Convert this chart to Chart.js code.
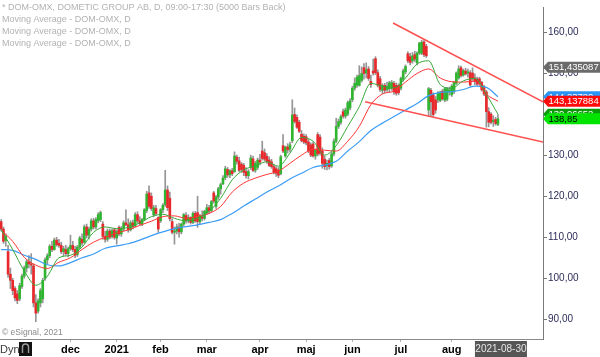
<!DOCTYPE html>
<html>
<head>
<meta charset="utf-8">
<script src="https://cdn.jsdelivr.net/npm/chart.js@4.4.1/dist/chart.umd.min.js"></script>
<style>
  html, body { margin: 0; padding: 0; background: #ffffff; }
  #wrap { width: 600px; height: 357px; position: relative; }
  canvas { display: block; }
</style>
</head>
<body>
<div id="wrap"><canvas id="c" width="600" height="357"></canvas></div>
<script>
// ---- DATA ----
const opens = [113.8,112.0,109.2,106.5,101.0,99.5,97.5,96.2,95.0,98.0,
100.5,102.5,104.0,103.5,103.0,94.0,92.0,94.0,95.0,100.0,
104.5,105.5,107.8,107.0,109.3,108.5,108.0,106.5,107.0,106.0,
107.2,108.0,107.0,105.8,107.6,109.5,108.8,112.5,110.5,112.0,
114.0,112.5,114.0,114.3,113.2,110.2,109.5,111.5,110.2,111.8,
109.8,112.4,110.8,112.0,113.5,113.0,111.8,113.5,112.8,115.5,
114.0,113.2,114.3,116.5,120.8,120.0,115.5,117.0,114.8,114.0,
116.7,118.0,121.5,119.5,113.8,111.2,111.5,112.5,111.3,113.2,
115.3,114.0,114.8,113.6,115.8,116.0,113.8,115.0,114.6,116.0,
117.2,116.5,120.8,117.5,119.8,121.8,123.0,124.5,126.5,125.2,
126.2,126.0,129.5,128.6,127.8,127.5,126.0,125.0,127.0,129.1,
126.3,127.0,128.8,131.0,130.6,129.7,128.8,128.4,127.2,126.7,
126.4,125.5,132.3,129.8,132.0,131.5,133.5,139.9,139.2,138.0,
135.1,134.6,134.5,133.2,132.5,132.7,129.8,135.0,134.4,131.0,
129.0,127.5,128.7,127.4,130.3,133.4,137.0,138.0,140.6,139.5,
140.0,141.5,143.5,146.3,147.0,147.0,148.2,151.3,150.0,151.0,
148.0,150.5,153.5,150.1,148.6,145.8,147.0,146.0,146.2,146.3,
147.5,147.0,147.0,146.3,148.5,150.3,154.7,154.0,153.0,154.5,
152.5,154.9,154.8,157.6,156.5,141.0,145.8,144.7,143.5,143.5,
143.3,145.6,143.4,143.6,145.5,144.7,145.5,147.5,148.8,151.3,
149.5,150.5,150.0,150.1,150.0,148.8,148.5,148.6,147.7,146.6,
145.4,140.6,140.0,138.2,138.7,137.5];
const highs = [114.3,112.5,110.8,108.0,102.5,100.0,98.0,97.0,98.8,101.0,
103.0,104.5,105.5,106.0,103.5,96.0,95.0,97.5,100.0,105.0,
106.0,108.2,109.0,109.8,110.0,109.5,108.8,107.8,108.0,107.6,
110.5,109.0,107.8,108.0,110.2,110.8,113.0,113.2,112.5,114.5,
114.6,114.8,116.0,116.4,113.8,111.5,112.0,112.0,112.0,112.2,
111.8,112.8,112.6,114.0,116.7,114.5,114.0,114.2,116.0,116.2,
115.0,114.6,117.0,121.2,122.5,120.8,117.8,117.8,115.0,117.0,
118.2,126.3,122.5,121.0,114.5,112.5,113.2,113.4,113.5,115.8,
116.0,115.5,115.0,116.2,116.3,120.0,115.6,116.4,116.6,118.0,
117.8,119.0,121.2,120.2,122.2,123.2,125.0,127.3,127.0,126.5,
126.8,130.8,130.0,129.5,128.2,128.0,127.0,126.5,130.0,129.8,
128.5,129.3,130.2,133.4,131.5,130.4,129.6,129.0,127.8,127.2,
127.0,130.0,135.0,132.2,132.8,133.2,143.5,141.5,139.8,138.5,
136.0,135.2,135.0,133.8,133.0,133.2,131.5,135.5,135.0,131.8,
129.8,128.8,129.2,130.8,134.0,139.0,138.8,139.8,141.2,141.5,
143.2,143.8,146.8,148.8,149.5,151.8,151.5,152.3,152.5,151.6,
149.5,153.4,154.0,150.8,149.2,147.4,147.5,147.8,148.0,148.2,
148.0,147.6,147.4,149.0,151.0,152.0,155.2,154.8,155.0,155.3,
155.2,157.5,158.0,157.9,157.0,146.5,146.3,145.2,144.3,145.5,
145.6,146.0,146.5,146.5,146.6,147.2,148.0,150.3,151.8,151.7,
151.0,151.2,151.0,150.6,151.3,149.8,149.0,149.0,148.0,147.0,
145.8,141.6,140.4,139.6,139.2,139.9];
const lows = [111.5,108.5,107.8,100.2,97.5,96.0,94.5,93.8,94.5,97.5,
100.0,101.5,102.5,101.0,93.0,89.4,91.5,93.0,94.0,99.5,
103.5,105.0,106.5,106.8,107.8,107.5,106.0,105.5,105.6,105.2,
106.8,106.5,105.0,105.3,107.2,108.0,108.5,109.8,109.6,111.5,
112.0,112.0,113.5,113.8,109.5,108.8,109.0,109.6,109.8,109.5,
108.3,110.3,110.2,111.5,112.8,111.2,111.5,112.0,112.5,113.5,
112.9,112.8,114.0,116.0,117.0,116.5,115.0,115.3,111.2,113.6,
116.0,117.5,116.5,114.0,110.8,108.3,110.8,110.0,110.8,112.8,
113.4,113.5,113.2,113.3,113.6,112.4,113.2,114.0,114.2,115.5,
115.8,116.2,118.3,117.0,119.2,120.5,122.8,124.0,124.6,124.5,
125.0,125.8,127.8,126.0,125.8,125.0,124.4,124.2,126.5,126.0,
125.8,126.5,127.6,128.8,128.6,128.0,127.2,126.8,125.4,124.8,
124.5,125.2,130.6,129.5,130.5,130.8,133.0,137.8,136.5,135.5,
133.2,132.8,132.5,130.6,129.6,129.5,129.0,129.8,130.0,126.8,
126.5,126.4,126.6,127.0,129.8,133.0,136.5,137.5,139.0,139.0,
139.6,141.0,143.0,145.8,146.5,146.8,147.8,148.5,148.8,148.2,
146.5,149.5,149.6,146.6,145.5,145.0,145.2,145.5,145.4,145.8,
144.8,144.6,144.7,145.9,148.0,149.8,152.5,152.0,152.4,152.8,
152.0,154.5,154.5,154.0,153.8,139.4,139.5,139.4,140.2,142.8,
143.0,143.4,143.0,143.2,144.6,144.3,145.0,147.2,148.5,149.0,
149.2,149.5,149.0,146.8,148.2,147.2,147.0,147.2,145.6,144.5,
136.8,136.9,137.6,137.0,137.3,137.2];
const closes = [112.0,109.0,110.2,101.0,99.5,97.0,95.2,94.6,98.2,100.5,
102.5,104.0,103.5,103.2,94.0,91.5,94.5,97.0,99.5,104.5,
105.5,107.8,107.0,109.3,108.2,108.0,106.5,107.2,106.0,107.2,
108.0,107.0,105.6,107.6,109.8,108.6,112.5,110.5,112.0,114.0,
112.5,114.3,115.5,116.0,110.2,109.5,111.5,110.0,111.6,110.0,
111.4,110.8,112.0,113.5,113.0,111.8,113.5,112.6,115.5,114.0,
113.3,114.3,116.7,120.5,117.5,117.0,117.2,115.8,112.0,116.7,
117.8,121.5,117.2,114.5,111.2,111.5,112.5,111.3,113.2,115.5,
114.0,114.8,113.6,115.8,114.0,113.8,115.2,114.6,116.3,117.2,
116.4,118.7,118.8,119.8,121.8,122.8,124.4,126.7,125.2,126.2,
125.5,129.8,128.5,126.3,126.5,125.8,125.0,126.0,129.3,126.3,
128.0,128.8,128.3,129.2,129.0,128.4,127.5,127.2,125.8,125.6,
125.1,129.6,131.0,132.0,131.3,132.5,139.8,138.2,136.8,135.8,
133.5,133.2,133.0,131.0,130.0,129.8,131.2,130.3,130.5,128.0,
127.2,128.0,127.2,130.3,133.4,137.0,138.2,139.4,139.5,141.0,
142.8,143.2,146.3,147.5,149.0,149.4,149.9,149.9,150.8,148.7,
147.2,150.0,150.1,147.0,146.0,147.0,145.8,146.8,147.6,147.7,
145.4,145.1,145.2,148.7,150.5,151.6,153.0,152.6,154.2,153.4,
154.9,157.3,157.5,154.5,154.2,146.2,143.0,139.9,141.0,145.0,
145.3,143.7,146.2,146.2,145.9,146.8,147.7,150.0,151.0,149.4,
150.6,149.8,150.3,147.1,148.6,148.0,147.3,147.5,145.9,144.9,
140.6,138.0,138.0,138.5,137.7,138.85];

// moving averages, read every 5th bar
const maIdx = [0,5,10,15,20,25,30,35,40,45,50,55,60,65,70,75,80,85,90,95,100,105,110,115,120,125,130,135,140,145,150,155,160,165,170,175,180,185,190,195,200,205,210,215];
const maFast = [111.8,107.0,101.8,98.3,100.5,105.0,105.6,107.6,111.2,112.5,112.1,112.4,113.5,115.0,115.6,114.6,114.0,114.7,116.3,119.5,124.0,126.4,127.4,128.4,127.3,130.5,134.3,133.4,130.0,132.3,137.0,141.8,147.5,146.8,146.4,148.8,152.2,153.0,147.2,146.3,148.1,148.7,144.8,139.97];
const maMid = [111.7,109.0,105.1,103.2,102.4,103.9,105.0,107.0,108.8,110.0,111.0,111.8,112.9,113.9,115.0,115.2,114.6,115.1,115.8,117.5,121.0,123.2,124.4,125.3,126.1,128.0,130.0,131.4,131.2,131.0,133.4,137.0,142.3,144.9,145.6,147.8,149.9,151.0,148.8,147.9,147.8,148.0,144.8,143.14];
const maSlow = [107.0,106.8,105.6,104.6,103.3,103.0,103.8,105.0,105.9,107.3,107.9,108.4,109.3,110.4,111.3,112.1,112.6,113.0,113.6,114.3,115.8,117.6,119.3,121.0,122.5,124.2,125.6,127.0,127.6,128.5,131.0,133.3,136.0,137.8,139.4,141.0,142.6,144.5,145.3,145.5,146.0,146.8,146.5,144.24];

// trend lines (bar index, value)
const upperTrend = [[169.6, 162.2], [234.5, 143.0]];
const lowerTrend = [[157.5, 143.0], [234.5, 133.2]];

// axes
const monthIdx = [30, 50, 69, 89, 112, 132, 152, 173, 195];
const monthNames = ['dec', '2021', 'feb', 'mar', 'apr', 'maj', 'jun', 'jul', 'aug'];
const yTicks = [90, 100, 110, 120, 130, 140, 150, 160];
const totalSlots = 235;
const lastDate = '2021-08-30';

// texts
const legendLines = ['* DOM-OMX, DOMETIC GROUP AB, D, 09:00-17:30 (5000 Bars Back)',
  'Moving Average - DOM-OMX, D', 'Moving Average - DOM-OMX, D', 'Moving Average - DOM-OMX, D'];
const copyright = '\u00A9 eSignal, 2021';
const tagValues = [151.435087, 144.2378, 143.137884, 139.96652, 138.85];
const tagTexts = ['151,435087', '144,23780', '143,137884', '139,96652', '138,85'];

// ---- BUILD ----
const FONT = '"Liberation Sans", Arial, sans-serif';
const GREEN = '#2fb52f', RED = '#e8282b';
const wickData = highs.map((h, i) => ({ x: i, y: [lows[i], h] }));
const bodyData = opens.map((o, i) => ({ x: i, y: [Math.min(o, closes[i]), Math.max(o, closes[i])] }));
const bodyColors = opens.map((o, i) => closes[i] >= o ? GREEN : RED);
const toPts = arr => arr.map((v, k) => ({ x: maIdx[k], y: v }));
const trendPts = t => t.map(p => ({ x: p[0], y: p[1] }));
const tagColors = [['#6b6b6b', '#ffffff'], ['#2a95f5', '#ffffff'], ['#ff0a0a', '#ffffff'], ['#0a9a0a', '#ffffff'], ['#00e400', '#000000']];

const overlay = {
  id: 'overlay',
  afterDraw(chart) {
    const c = chart.ctx, xs = chart.scales.x, ys = chart.scales.y, a = chart.chartArea;
    c.save();
    c.textAlign = 'left';
    c.textBaseline = 'middle';
    c.font = '9px ' + FONT;
    c.fillStyle = '#b2b2b2';
    const ly = [8, 20, 32, 44];
    legendLines.forEach((t, k) => c.fillText(t, 2, ly[k]));
    c.font = '8.5px ' + FONT;
    c.fillStyle = '#8a8a8a';
    c.fillText(copyright, 2, a.bottom - 6);
    // Dyn + icon
    c.font = '11px ' + FONT;
    c.fillStyle = '#3a3a3a';
    c.fillText('Dyn', 0, 350);
    c.fillStyle = '#111';
    c.fillRect(19, 342, 13, 14);
    c.strokeStyle = '#9a9a9a';
    c.lineWidth = 1.4;
    c.beginPath();
    c.moveTo(22.5, 353); c.lineTo(22.5, 347); c.arc(25.5, 347, 3, Math.PI, 0); c.lineTo(28.5, 353);
    c.stroke();
    // date box
    const cx = xs.getPixelForValue(opens.length - 1) + 3;
    c.fillStyle = '#565656';
    c.fillRect(cx - 26, 341, 52, 16);
    c.fillStyle = '#e6e6e6';
    c.font = '10px ' + FONT;
    c.textAlign = 'center';
    c.fillText(lastDate, cx, 349.5);
    // price tags
    c.textAlign = 'left';
    c.font = '9.5px ' + FONT;
    tagValues.forEach((v, k) => {
      const yc = ys.getPixelForValue(v);
      const x0 = a.right;
      c.fillStyle = tagColors[k][0];
      c.beginPath();
      c.moveTo(x0, yc);
      c.lineTo(x0 + 5, yc - 5.5);
      c.lineTo(600, yc - 5.5);
      c.lineTo(600, yc + 5.5);
      c.lineTo(x0 + 5, yc + 5.5);
      c.closePath();
      c.fill();
      c.fillStyle = tagColors[k][1];
      c.fillText(tagTexts[k], x0 + 5.5, yc + 0.5);
    });
    c.restore();
  }
};

new Chart(document.getElementById('c'), {
  type: 'bar',
  data: {
    datasets: [
      { type: 'line', data: trendPts(upperTrend), borderColor: '#ff5050', borderWidth: 1.6, pointRadius: 0, order: 0 },
      { type: 'line', data: trendPts(lowerTrend), borderColor: '#ff5050', borderWidth: 1.6, pointRadius: 0, order: 0 },
      { type: 'line', data: toPts(maFast), borderColor: '#39a839', borderWidth: 1, pointRadius: 0, cubicInterpolationMode: 'monotone', order: 1 },
      { type: 'line', data: toPts(maMid), borderColor: '#ff3535', borderWidth: 1, pointRadius: 0, cubicInterpolationMode: 'monotone', order: 2 },
      { type: 'line', data: toPts(maSlow), borderColor: '#3a9cf5', borderWidth: 1.2, pointRadius: 0, cubicInterpolationMode: 'monotone', order: 3 },
      { data: bodyData, backgroundColor: bodyColors, barThickness: 2, grouped: false, order: 4 },
      { data: wickData, backgroundColor: '#959595', barThickness: 1, grouped: false, order: 5 }
    ]
  },
  options: {
    responsive: false,
    animation: false,
    events: [],
    layout: { padding: 0 },
    plugins: { legend: { display: false }, tooltip: { enabled: false }, title: { display: false } },
    scales: {
      x: {
        type: 'linear',
        min: -0.5,
        max: totalSlots - 0.5,
        offset: false,
        grid: { display: true, offset: false, drawOnChartArea: false, drawTicks: true, tickLength: 3, color: '#b0b0b0' },
        border: { display: true, color: '#8a8a8a' },
        afterBuildTicks: s => { s.ticks = monthIdx.map(v => ({ value: v })); },
        afterFit: s => { s.height = 18; },
        ticks: {
          autoSkip: false, maxRotation: 0, padding: 1,
          color: '#000000',
          font: { family: FONT, size: 11, weight: 'bold' },
          callback: (v, i) => monthNames[i]
        }
      },
      y: {
        position: 'right',
        min: 85.2,
        max: 166.1,
        grid: { display: true, drawOnChartArea: false, drawTicks: true, tickLength: 4, color: '#777777' },
        border: { display: true, color: '#7a7a7a' },
        afterBuildTicks: s => { s.ticks = yTicks.map(v => ({ value: v })); },
        afterFit: s => { s.width = 57; },
        ticks: {
          padding: 1,
          color: '#2c2c5a',
          font: { family: FONT, size: 10 },
          callback: v => v.toFixed(2).replace('.', ',')
        }
      }
    }
  },
  plugins: [overlay]
});
</script>
</body>
</html>
